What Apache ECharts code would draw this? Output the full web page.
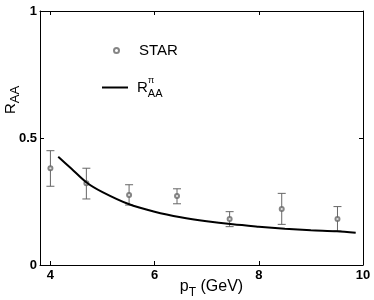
<!DOCTYPE html>
<html>
<head>
<meta charset="utf-8">
<script src="https://cdn.jsdelivr.net/npm/echarts@6/dist/echarts.min.js"></script>
<style>html,body{margin:0;padding:0;background:#fff}#c{width:374px;height:300px}</style>
</head>
<body>
<div id="c"></div>
<script>
// STAR data: pT, RAA, low, high
var starPt   = [4.0, 4.69, 5.51, 6.43, 7.44, 8.44, 9.51];
var starRaa  = [0.381, 0.322, 0.276, 0.272, 0.181, 0.220, 0.181];
var starLow  = [0.310, 0.260, 0.236, 0.241, 0.151, 0.160, 0.134];
var starHigh = [0.450, 0.381, 0.316, 0.300, 0.210, 0.282, 0.230];
// model curve
var curvePt  = [4.15, 4.4, 4.7, 5.0, 5.5, 6.0, 6.5, 7.0, 7.5, 8.0, 8.5, 9.0, 9.5, 9.86];
var curveRaa = [0.426, 0.380, 0.324, 0.287, 0.240, 0.210, 0.188, 0.172, 0.160, 0.151, 0.143, 0.137, 0.133, 0.127];
var xTicks = [4, 6, 8, 10];

var font = 'Liberation Sans, Arial, Helvetica, sans-serif';
var chart = echarts.init(document.getElementById('c'), null, {renderer: 'canvas'});

var pts = starPt.map(function (x, i) { return [x, starRaa[i]]; });
var errs = starPt.map(function (x, i) { return [x, starLow[i], starHigh[i]]; });
var curve = curvePt.map(function (x, i) { return [x, curveRaa[i]]; });

function xAx(pos, labels) {
  return {
    type: 'value', position: pos, min: 3.8, max: 10,
    axisLine: {show: true, onZero: false, lineStyle: {color: '#000', width: 1}},
    axisTick: {show: true, inside: true, length: 4, customValues: xTicks, lineStyle: {color: '#000'}},
    axisLabel: {show: labels, customValues: xTicks, margin: 4, color: '#000', fontSize: 13, fontWeight: 'bold', fontFamily: font},
    splitLine: {show: false}
  };
}
function yAx(pos, labels) {
  return {
    type: 'value', position: pos, min: 0, max: 1, interval: 0.5,
    axisLine: {show: true, onZero: false, lineStyle: {color: '#000', width: 1}},
    axisTick: {show: true, inside: true, length: 4, lineStyle: {color: '#000'}},
    axisLabel: {show: labels, margin: 3, color: '#000', fontSize: 13, fontWeight: 'bold', fontFamily: font},
    splitLine: {show: false}
  };
}
var x0 = xAx('bottom', true);
x0.name = '{a|p}{b|T}{a| (GeV)}';
x0.nameLocation = 'middle';
x0.nameGap = 9;
x0.nameMoveOverlap = false;
x0.nameTextStyle = {padding: [0, 0, 0, 20], rich: {
  a: {fontSize: 16, fontFamily: font, color: '#000'},
  b: {fontSize: 12, fontFamily: font, color: '#000', padding: [13, 0, 0, 0]}
}};
var y0 = yAx('left', true);
y0.name = '{a|R}{b|AA}';
y0.nameLocation = 'middle';
y0.nameGap = 18;
y0.nameRotate = 90;
y0.nameMoveOverlap = false;
y0.nameTextStyle = {padding: [0, 0, 0, 76], rich: {
  a: {fontSize: 15, fontFamily: font, color: '#000'},
  b: {fontSize: 13, fontFamily: font, color: '#000', padding: [9, 0, 0, 0]}
}};

chart.setOption({
  animation: false,
  backgroundColor: '#fff',
  grid: {left: 40, right: 11, top: 11, bottom: 35, outerBoundsMode: 'none', containLabel: false},
  xAxis: [x0, xAx('top', false)],
  yAxis: [y0, yAx('right', false)],
  legend: [
    {data: [{name: 'STAR', icon: 'emptyCircle'}], left: 113, top: 43, padding: 0, itemWidth: 5, itemHeight: 5,
     formatter: '{a|{name}}', textStyle: {rich: {a: {fontSize: 15, fontFamily: font, color: '#000', padding: [0, 0, 0, 15]}}}},
    {data: [{name: 'RAA', icon: 'rect'}], left: 102, top: 80, padding: 0, itemWidth: 26, itemHeight: 2,
     formatter: function () { return '{a|R}{b|AA}'; },
     textStyle: {rich: {a: {fontSize: 15, fontFamily: font, color: '#000', padding: [0, 0, 0, 4]},
                        b: {fontSize: 11, fontFamily: font, color: '#000', padding: [12, 0, 0, 0]}}}}
  ],
  graphic: [{type: 'text', left: 148, top: 76, style: {text: 'π', fontSize: 9, fontFamily: font, fill: '#000'}}],
  series: [
    {
      type: 'custom', name: 'err', xAxisIndex: 0, yAxisIndex: 0, data: errs, silent: true,
      renderItem: function (params, api) {
        var x = api.value(0);
        var lo = api.coord([x, api.value(1)]);
        var hi = api.coord([x, api.value(2)]);
        var w = 4;
        var st = {stroke: '#666', lineWidth: 1};
        return {type: 'group', children: [
          {type: 'line', shape: {x1: lo[0], y1: lo[1], x2: hi[0], y2: hi[1]}, style: st},
          {type: 'line', shape: {x1: lo[0] - w, y1: lo[1], x2: lo[0] + w, y2: lo[1]}, style: st},
          {type: 'line', shape: {x1: hi[0] - w, y1: hi[1], x2: hi[0] + w, y2: hi[1]}, style: st}
        ]};
      },
      encode: {x: 0, y: [1, 2]}
    },
    {
      type: 'scatter', name: 'STAR', data: pts, symbol: 'emptyCircle', symbolSize: 4,
      itemStyle: {color: '#666', borderColor: '#666', borderWidth: 0.8}
    },
    {
      type: 'line', name: 'RAA', data: curve, smooth: 0.3, showSymbol: false, symbol: 'none',
      lineStyle: {color: '#000', width: 2}, itemStyle: {color: '#000'}
    }
  ]
});
</script>
</body>
</html>
